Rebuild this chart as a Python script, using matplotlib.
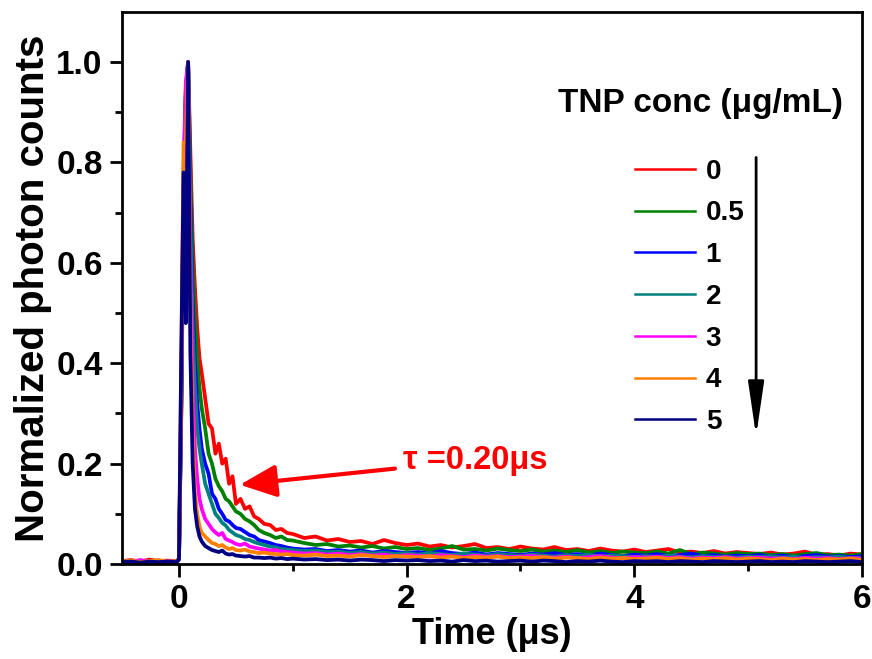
import matplotlib
matplotlib.use('Agg')
import matplotlib.pyplot as plt

# время (мкс), общая сетка для всех кривых
time_us = [-0.5, -0.42, -0.34, -0.26, -0.18, -0.1, -0.02,
           0.0, 0.02, 0.04, 0.06, 0.08, 0.1, 0.12, 0.14, 0.16, 0.18, 0.2,
           0.23, 0.26, 0.29, 0.32, 0.35, 0.38, 0.41, 0.44, 0.47, 0.5,
           0.54, 0.58, 0.62, 0.66, 0.7, 0.75, 0.8, 0.85, 0.9, 0.95,
           1.0, 1.1, 1.2, 1.3, 1.4, 1.5, 1.6, 1.7, 1.8, 1.9, 2.0,
           2.1, 2.2, 2.3, 2.4, 2.5, 2.6, 2.7, 2.8, 2.9, 3.0,
           3.1, 3.2, 3.3, 3.4, 3.5, 3.6, 3.7, 3.8, 3.9, 4.0,
           4.1, 4.2, 4.3, 4.4, 4.5, 4.6, 4.7, 4.8, 4.9, 5.0,
           5.1, 5.2, 5.3, 5.4, 5.5, 5.6, 5.7, 5.8, 5.9, 6.0]

# концентрации TNP (мкг/мл)
conc_labels = ['0', '0.5', '1', '2', '3', '4', '5']
colors = ['#ff0000', '#008000', '#0000ff', '#008080', '#ff00ff', '#ff8000', '#000080']

c0 = [0.006, 0.008, 0.005, 0.009, 0.006, 0.007, 0.006,
      0.01, 0.3, 0.72, 0.92, 1.0, 0.82, 0.65, 0.55, 0.47, 0.41, 0.38,
      0.33, 0.28, 0.27, 0.22, 0.24, 0.20, 0.21, 0.16, 0.175, 0.12,
      0.13, 0.11, 0.115, 0.095, 0.09, 0.08, 0.078, 0.068, 0.07, 0.062,
      0.06, 0.052, 0.055, 0.047, 0.05, 0.044, 0.046, 0.04, 0.048, 0.042, 0.038,
      0.041, 0.035, 0.038, 0.033, 0.036, 0.04, 0.032, 0.034, 0.03, 0.035,
      0.031, 0.029, 0.034, 0.028, 0.03, 0.026, 0.031, 0.027, 0.025, 0.029,
      0.024, 0.027, 0.03, 0.023, 0.025, 0.022, 0.026, 0.021, 0.024, 0.022,
      0.02, 0.023, 0.019, 0.021, 0.025, 0.018, 0.02, 0.017, 0.021, 0.019]

c05 = [0.005, 0.004, 0.007, 0.005, 0.006, 0.004, 0.005,
       0.01, 0.3, 0.72, 0.93, 1.0, 0.78, 0.6, 0.49, 0.41, 0.35, 0.31,
       0.27, 0.22, 0.2, 0.17, 0.155, 0.145, 0.13, 0.125, 0.115, 0.105,
       0.1, 0.09, 0.085, 0.078, 0.068, 0.062, 0.058, 0.052, 0.055, 0.048,
       0.047, 0.042, 0.038, 0.04, 0.035, 0.037, 0.033, 0.036, 0.031, 0.034, 0.03,
       0.032, 0.028, 0.031, 0.036, 0.029, 0.03, 0.027, 0.031, 0.028, 0.026,
       0.029, 0.025, 0.027, 0.024, 0.028, 0.023, 0.026, 0.022, 0.025, 0.023,
       0.022, 0.025, 0.021, 0.028, 0.02, 0.023, 0.021, 0.019, 0.022, 0.02,
       0.021, 0.018, 0.02, 0.017, 0.02, 0.022, 0.018, 0.019, 0.017, 0.02]

c1 = [0.004, 0.006, 0.004, 0.005, 0.007, 0.004, 0.005,
      0.01, 0.32, 0.75, 0.94, 1.0, 0.72, 0.52, 0.4, 0.32, 0.27, 0.23,
      0.2, 0.18, 0.14, 0.13, 0.11, 0.1, 0.088, 0.085, 0.078, 0.072,
      0.07, 0.064, 0.058, 0.055, 0.048, 0.045, 0.042, 0.038, 0.036, 0.033,
      0.031, 0.029, 0.03, 0.026, 0.028, 0.025, 0.027, 0.023, 0.026, 0.024, 0.022,
      0.024, 0.021, 0.026, 0.022, 0.02, 0.023, 0.019, 0.022, 0.02, 0.018,
      0.021, 0.019, 0.022, 0.018, 0.02, 0.017, 0.021, 0.018, 0.016, 0.019,
      0.017, 0.02, 0.016, 0.018, 0.021, 0.016, 0.018, 0.015, 0.017, 0.016,
      0.018, 0.015, 0.017, 0.014, 0.016, 0.018, 0.015, 0.016, 0.014, 0.016]

c2 = [0.005, 0.004, 0.006, 0.004, 0.005, 0.006, 0.004,
      0.01, 0.33, 0.76, 0.95, 1.0, 0.68, 0.47, 0.35, 0.27, 0.23, 0.2,
      0.16, 0.14, 0.12, 0.1, 0.092, 0.082, 0.077, 0.068, 0.063, 0.058,
      0.055, 0.05, 0.048, 0.044, 0.041, 0.038, 0.035, 0.033, 0.03, 0.029,
      0.028, 0.026, 0.027, 0.024, 0.025, 0.022, 0.024, 0.021, 0.023, 0.02, 0.022,
      0.019, 0.022, 0.02, 0.018, 0.021, 0.019, 0.017, 0.02, 0.018, 0.016,
      0.019, 0.017, 0.015, 0.018, 0.016, 0.019, 0.015, 0.017, 0.016, 0.014,
      0.016, 0.014, 0.017, 0.015, 0.013, 0.016, 0.014, 0.015, 0.013, 0.015,
      0.014, 0.016, 0.013, 0.015, 0.012, 0.014, 0.013, 0.015, 0.012, 0.013]

c3 = [0.006, 0.005, 0.008, 0.005, 0.004, 0.006, 0.005,
      0.01, 0.35, 0.78, 0.96, 1.0, 0.6, 0.36, 0.23, 0.17, 0.13, 0.11,
      0.09, 0.08, 0.07, 0.063, 0.058, 0.062, 0.05, 0.047, 0.044, 0.04,
      0.038, 0.041, 0.035, 0.033, 0.031, 0.029, 0.027, 0.028, 0.025, 0.024,
      0.023, 0.021, 0.022, 0.019, 0.021, 0.018, 0.02, 0.017, 0.019, 0.016, 0.018,
      0.017, 0.015, 0.018, 0.016, 0.014, 0.017, 0.015, 0.016, 0.014, 0.015,
      0.016, 0.014, 0.013, 0.015, 0.012, 0.014, 0.016, 0.013, 0.012, 0.014,
      0.013, 0.015, 0.012, 0.014, 0.011, 0.013, 0.012, 0.014, 0.011, 0.012,
      0.013, 0.011, 0.012, 0.01, 0.013, 0.011, 0.012, 0.01, 0.012, 0.011]

c4 = [0.005, 0.007, 0.004, 0.006, 0.008, 0.005, 0.006,
      0.01, 0.4, 0.84, 0.84, 1.0, 0.5, 0.26, 0.14, 0.1, 0.075, 0.062,
      0.055, 0.048, 0.042, 0.04, 0.036, 0.038, 0.033, 0.03, 0.032, 0.028,
      0.027, 0.029, 0.025, 0.024, 0.022, 0.023, 0.021, 0.02, 0.019, 0.02,
      0.018, 0.017, 0.019, 0.016, 0.017, 0.015, 0.018, 0.016, 0.014, 0.016, 0.015,
      0.014, 0.016, 0.013, 0.015, 0.012, 0.014, 0.013, 0.015, 0.012, 0.013,
      0.012, 0.014, 0.011, 0.013, 0.012, 0.01, 0.013, 0.011, 0.012, 0.01,
      0.011, 0.013, 0.01, 0.012, 0.009, 0.011, 0.01, 0.012, 0.009, 0.011,
      0.01, 0.008, 0.011, 0.009, 0.01, 0.008, 0.01, 0.009, 0.011, 0.008]

c5 = [0.004, 0.005, 0.003, 0.005, 0.004, 0.005, 0.004,
      0.01, 0.42, 0.78, 0.48, 1.0, 0.42, 0.2, 0.11, 0.075, 0.055, 0.045,
      0.036, 0.032, 0.028, 0.026, 0.024, 0.027, 0.021, 0.019, 0.02, 0.017,
      0.016, 0.015, 0.016, 0.013, 0.013, 0.012, 0.013, 0.011, 0.012, 0.01,
      0.011, 0.009, 0.01, 0.008, 0.009, 0.007, 0.009, 0.008, 0.006, 0.008, 0.007,
      0.008, 0.006, 0.007, 0.005, 0.008, 0.006, 0.007, 0.005, 0.006, 0.007,
      0.005, 0.007, 0.006, 0.004, 0.006, 0.005, 0.007, 0.005, 0.004, 0.006,
      0.005, 0.006, 0.004, 0.006, 0.005, 0.004, 0.006, 0.005, 0.004, 0.005,
      0.006, 0.004, 0.005, 0.004, 0.006, 0.005, 0.004, 0.005, 0.006, 0.004]

curves = [c0, c05, c1, c2, c3, c4, c5]

plt.rcParams['font.family'] = ['Liberation Sans', 'DejaVu Sans']
plt.rcParams['font.weight'] = 'bold'

fig = plt.figure(figsize=(8.72, 6.59), dpi=100)
ax = fig.add_axes([0.140, 0.144, 0.8485, 0.838])

for y, lab, col in zip(curves, conc_labels, colors):
    ax.plot(time_us, y, color=col, lw=2.7, label=lab, solid_joinstyle='round')

ax.set_xlim(-0.5, 6)
ax.set_ylim(0, 1.1)
ax.set_xticks([0, 2, 4, 6])
ax.set_xticks([1, 3, 5], minor=True)
ax.set_yticks([0.0, 0.2, 0.4, 0.6, 0.8, 1.0])
ax.set_yticks([0.1, 0.3, 0.5, 0.7, 0.9], minor=True)
ax.set_yticklabels(['0.0', '0.2', '0.4', '0.6', '0.8', '1.0'])
ax.tick_params(which='major', direction='out', length=9, width=2, labelsize=24, pad=5)
ax.tick_params(which='minor', direction='out', length=5, width=2)
for s in ax.spines.values():
    s.set_linewidth(2)

ax.set_xlabel('Time (\u03bcs)', fontsize=26, fontweight='bold', labelpad=2)
ax.set_ylabel('Normalized photon counts', fontsize=29, fontweight='bold', labelpad=3)

# легенда
leg = ax.legend(loc='upper left', bbox_to_anchor=(0.693, 0.734), frameon=False,
                fontsize=20, handlelength=2.15, handletextpad=0.4,
                labelspacing=0.565, borderpad=0, borderaxespad=0)
for h in leg.get_lines():
    h.set_linewidth(1.8)
ax.text(4.58, 0.918, 'TNP conc (\u03bcg/mL)', fontsize=24, fontweight='bold',
        ha='center', va='center')

# стрелка роста концентрации
ax.annotate('', xy=(5.07, 0.255), xytext=(5.07, 0.81),
            arrowprops=dict(arrowstyle='-|>,head_length=1.5,head_width=0.22',
                            color='black', lw=2, mutation_scale=22,
                            shrinkA=0, shrinkB=0))

# время жизни
ax.annotate('\u03c4 =0.20\u03bcs', xy=(0.535, 0.158), xytext=(1.97, 0.207),
            color='#ff0000', fontsize=23.5, fontweight='bold', va='center',
            arrowprops=dict(arrowstyle='-|>,head_length=0.9,head_width=0.4',
                            color='#ff0000', lw=3, mutation_scale=25,
                            shrinkA=4, shrinkB=0))

fig.savefig('out.png', dpi=100)
